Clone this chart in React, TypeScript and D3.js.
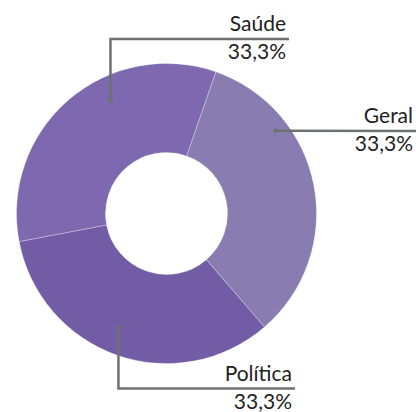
import { useEffect, useRef } from "react";
import * as d3 from "d3";

// Dados
const categorias = ["Geral", "Política", "Saúde"];
const valores = [33.3, 33.3, 33.3];
const cores = ["#897cb1", "#725ca6", "#7e68af"];

// Posicionamento dos rótulos (fração do ângulo da fatia, raio do ponto, cotovelo e fim da linha)
const rotulos = [
  { t: 0.28, r: 137, elbowY: null, lineY: 131, endX: 416 },
  { t: 0.53, r: 124, elbowY: 388.5, lineY: 388.5, endX: 295 },
  { t: 0.62, r: 126, elbowY: 39, lineY: 39, endX: 289 },
];

const WIDTH = 416;
const HEIGHT = 412;

const DonutChart = () => {
  const ref = useRef<SVGSVGElement | null>(null);

  useEffect(() => {
    if (!ref.current) return;
    const svg = d3.select(ref.current);
    svg.selectAll("*").remove();

    const cx = 166.5;
    const cy = 213.5;
    const outer = 150;
    const inner = 61;

    const dados = categorias.map((c, i) => ({ categoria: c, valor: valores[i], cor: cores[i] }));

    const startOffset = (19.2 * Math.PI) / 180;
    const pie = d3
      .pie<any>()
      .value((d) => d.valor)
      .sort(null)
      .startAngle(startOffset)
      .endAngle(startOffset + Math.PI * 2);

    const arc = d3.arc<any>().innerRadius(inner).outerRadius(outer);

    const g = svg.append("g").attr("transform", `translate(${cx},${cy})`);
    const arcos = pie(dados);

    g.selectAll("path")
      .data(arcos)
      .enter()
      .append("path")
      .attr("d", arc)
      .attr("fill", (d) => d.data.cor)
      .attr("stroke", "rgba(255,255,255,0.35)")
      .attr("stroke-width", 0.8);

    // Linhas de chamada e rótulos
    arcos.forEach((d, i) => {
      const lay = rotulos[i];
      const a = d.startAngle + lay.t * (d.endAngle - d.startAngle);
      const px = cx + Math.sin(a) * lay.r;
      const py = cy - Math.cos(a) * lay.r;

      const pts: [number, number][] = [[px, py]];
      if (lay.elbowY !== null) pts.push([px, lay.elbowY]);
      pts.push([lay.endX, lay.lineY]);

      svg
        .append("path")
        .attr("d", d3.line()(pts))
        .attr("fill", "none")
        .attr("stroke", "#6d7270")
        .attr("stroke-width", 2.5);

      svg
        .append("circle")
        .attr("cx", px)
        .attr("cy", py)
        .attr("r", 2.2)
        .attr("fill", "#6d7270");

      const tx = lay.endX - 3;
      svg
        .append("text")
        .attr("x", tx)
        .attr("y", lay.lineY - 8)
        .attr("text-anchor", "end")
        .style("font-family", "Lato, sans-serif")
        .style("font-size", "21px")
        .style("fill", "#222")
        .text(d.data.categoria);

      svg
        .append("text")
        .attr("x", tx)
        .attr("y", lay.lineY + 20)
        .attr("text-anchor", "end")
        .style("font-family", "Lato, sans-serif")
        .style("font-size", "21px")
        .style("fill", "#222")
        .text(`${d3.format(".1f")(d.data.valor).replace(".", ",")}%`);
    });
  }, []);

  return (
    <svg
      ref={ref}
      width={WIDTH}
      height={HEIGHT}
      style={{ position: "absolute", left: 0, top: 0, background: "#fff" }}
    />
  );
};

export default function App() {
  return <DonutChart />;
}
